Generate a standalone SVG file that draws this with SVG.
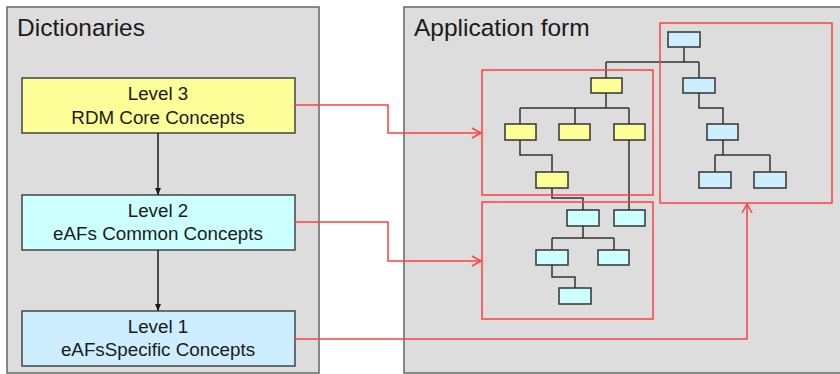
<svg xmlns="http://www.w3.org/2000/svg" width="840" height="374" viewBox="0 0 840 374">
<defs>
<style>
.panel{fill:#dddddd;stroke:#666666;stroke-width:1.5}
.title{font-family:"Liberation Sans",Arial,sans-serif;font-size:24.5px;fill:#1a1a1a}
.lvl{stroke:#444444;stroke-width:1.5}
.lbl{font-family:"Liberation Sans",Arial,sans-serif;font-size:18.8px;fill:#1a1a1a;text-anchor:middle}
.n{stroke:#333333;stroke-width:1.5}
.y{fill:#ffff99}
.c{fill:#ccffff}
.b{fill:#cceeff}
.tree{fill:none;stroke:#333333;stroke-width:1.5}
.red{fill:none;stroke:#ff4040;stroke-width:1.5}
.blk{fill:none;stroke:#1a1a1a;stroke-width:1.5}
</style>
<marker id="ah" markerWidth="8" markerHeight="8" refX="7" refY="4" orient="auto" markerUnits="userSpaceOnUse">
<path d="M0,1 L7,4 L0,7 z" fill="#1a1a1a"/>
</marker>
<marker id="ra" markerWidth="12" markerHeight="12" refX="10" refY="6" orient="auto" markerUnits="userSpaceOnUse">
<path d="M1,1 L10,6 L1,11" fill="none" stroke="#ff4040" stroke-width="1.5"/>
</marker>
</defs>
<rect width="840" height="374" fill="#ffffff"/>
<g id="dictionaries">
<rect class="panel" x="7" y="7" width="312" height="366"/>
<text class="title" x="17" y="36">Dictionaries</text>
</g>
<g id="application-form">
<rect class="panel" x="404" y="7" width="440" height="366"/>
<text class="title" x="414" y="36">Application form</text>
</g>
<g id="level3">
<rect class="lvl y" x="22" y="78" width="273" height="55"/>
<text class="lbl" x="158" y="100">Level 3</text>
<text class="lbl" x="158" y="124">RDM Core Concepts</text>
</g>
<g id="level2">
<rect class="lvl c" x="22" y="195" width="273" height="55"/>
<text class="lbl" x="158" y="217">Level 2</text>
<text class="lbl" x="158" y="240">eAFs Common Concepts</text>
</g>
<g id="level1">
<rect class="lvl b" x="22" y="311" width="273" height="55"/>
<text class="lbl" x="158" y="333">Level 1</text>
<text class="lbl" x="158" y="356">eAFsSpecific Concepts</text>
</g>
<g id="tree-links">
<path class="tree" d="M684,47 V62 M606,62 H699 M606,62 V78 M699,62 V78"/>
<path class="tree" d="M606,93 V108 M520,108 H629 M520,108 V124 M575,108 V124 M629,108 V124"/>
<path class="tree" d="M520,140 V155 H552 V172"/>
<path class="tree" d="M699,93 V108 H723 V124"/>
<path class="tree" d="M723,140 V155 M715,155 H770 M715,155 V172 M770,155 V172"/>
<path class="tree" d="M552,188 V198 H583 V210"/>
<path class="tree" d="M629,140 V210"/>
<path class="tree" d="M583,226 V238 M552,238 H614 M552,238 V250 M614,238 V250"/>
<path class="tree" d="M552,265 V277 H575 V288"/>
</g>
<g id="tree-nodes">
<rect class="n b" x="668" y="32" width="32" height="15"/>
<rect class="n y" x="591" y="78" width="31" height="15"/>
<rect class="n b" x="683" y="78" width="32" height="15"/>
<rect class="n y" x="505" y="124" width="31" height="16"/>
<rect class="n y" x="559" y="124" width="31" height="16"/>
<rect class="n y" x="614" y="124" width="31" height="16"/>
<rect class="n b" x="707" y="124" width="31" height="16"/>
<rect class="n y" x="536" y="172" width="32" height="16"/>
<rect class="n b" x="699" y="172" width="32" height="16"/>
<rect class="n b" x="754" y="172" width="32" height="16"/>
<rect class="n c" x="567" y="210" width="32" height="16"/>
<rect class="n c" x="614" y="210" width="31" height="16"/>
<rect class="n c" x="536" y="250" width="32" height="15"/>
<rect class="n c" x="598" y="250" width="31" height="15"/>
<rect class="n c" x="559" y="288" width="32" height="16"/>
</g>
<g id="group-core">
<rect class="red" x="482" y="70" width="171" height="125"/>
</g>
<g id="group-common">
<rect class="red" x="482" y="202" width="171" height="117"/>
</g>
<g id="group-specific">
<rect class="red" x="660" y="23" width="172" height="180"/>
</g>
<g id="connectors">
<path class="blk" d="M158,133 V195" marker-end="url(#ah)"/>
<path class="blk" d="M158,250 V311" marker-end="url(#ah)"/>
<path class="red" d="M295,105 H388 V133 H481" marker-end="url(#ra)"/>
<path class="red" d="M295,222 H388 V261 H481" marker-end="url(#ra)"/>
<path class="red" d="M295,339 H747 V204" marker-end="url(#ra)"/>
</g>
</svg>
